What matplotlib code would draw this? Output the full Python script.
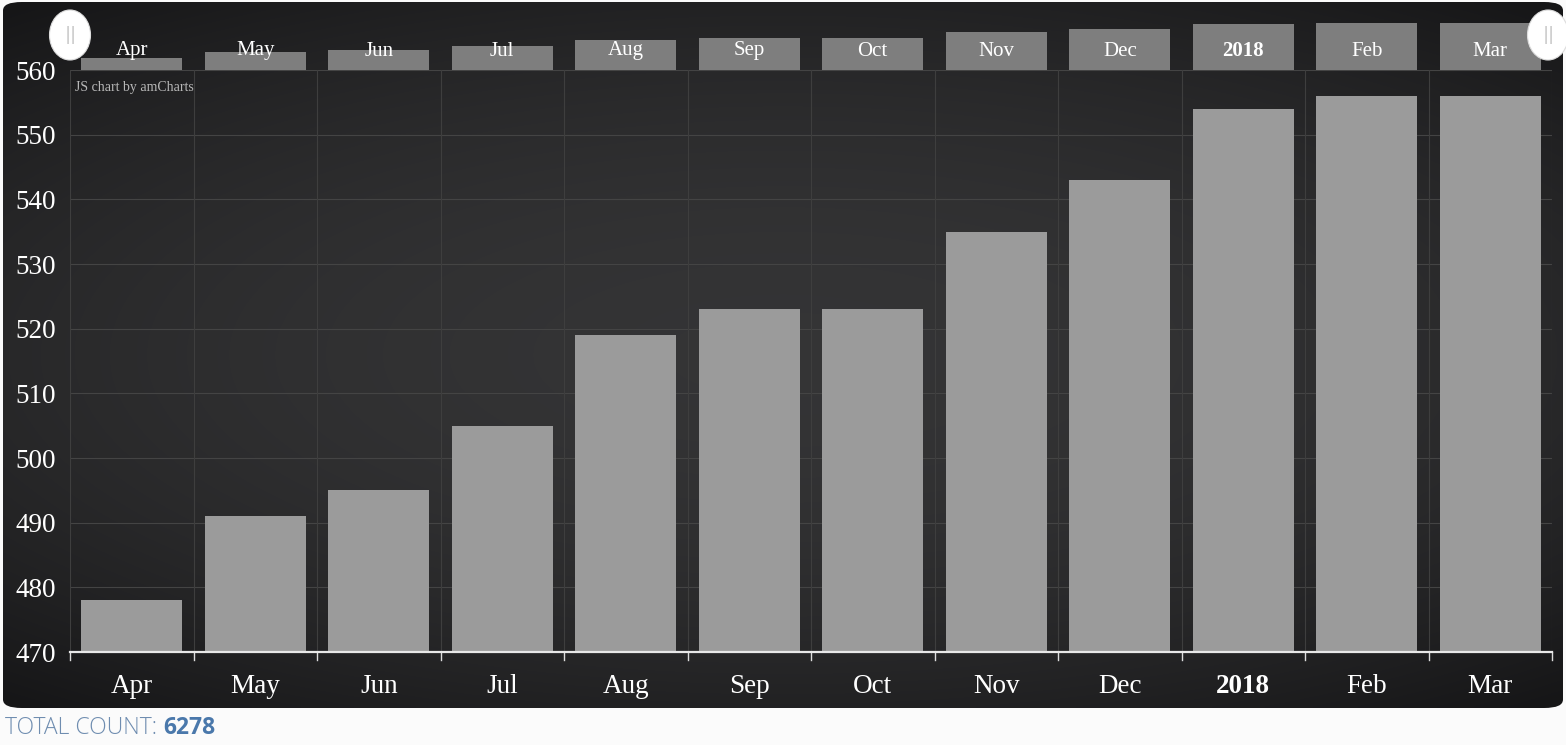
import matplotlib
matplotlib.use("Agg")
import matplotlib.pyplot as plt
import matplotlib.patches as mpatches
import matplotlib.transforms as mtrans
import numpy as np

categories = ["Apr", "May", "Jun", "Jul", "Aug", "Sep", "Oct", "Nov", "Dec", "2018", "Feb", "Mar"]
values = [478, 491, 495, 505, 519, 523, 523, 535, 543, 554, 556, 556]
bold_labels = ["2018"]
y_ticks = [470, 480, 490, 500, 510, 520, 530, 540, 550, 560]
total_label = "TOTAL COUNT: "
total_value = sum(values)

W, H = 1566, 745
fig = plt.figure(figsize=(W / 100, H / 100), dpi=100)
fig.patch.set_facecolor("#fbfbfb")

def fx(px):
    return px / W

def fy(py):
    return 1 - py / H

serif = ["Liberation Serif", "DejaVu Serif"]

# chalkboard panel with soft gradient
panel_ax = fig.add_axes([fx(3), fy(708), fx(1560), (706) / H])
panel_ax.set_axis_off()
gx = np.linspace(-1, 1, 400)
gy = np.linspace(-1, 1, 200)
GX, GY = np.meshgrid(gx, gy)
r = np.sqrt((GX * 0.9) ** 2 + (GY * 1.1) ** 2)
shade = 0.205 - 0.06 * np.clip(r, 0, 1.4) ** 2
img = np.dstack([shade, shade, shade + 0.005])
panel_ax.imshow(np.clip(img, 0, 1), aspect="auto", extent=[0, 1, 0, 1], interpolation="bilinear")
panel_ax.set_xlim(0, 1)
panel_ax.set_ylim(0, 1)
clip = mpatches.FancyBboxPatch((0, 0), 1, 1, boxstyle="round,pad=0,rounding_size=0.012",
                               transform=panel_ax.transAxes, facecolor="none", edgecolor="none")
panel_ax.add_patch(clip)
for im in panel_ax.images:
    im.set_clip_path(clip)

# main axes
ax = fig.add_axes([fx(70), fy(652), fx(1552 - 70), (652 - 70) / H])
ax.set_facecolor("none")
x = np.arange(len(categories))
ax.bar(x, values, width=0.82, color="#9b9b9b", zorder=3)
ax.set_xlim(-0.5, len(categories) - 0.5)
ax.set_ylim(470, 560)
ax.set_yticks(y_ticks)
ax.set_yticklabels([str(t) for t in y_ticks], family=serif, fontsize=19.5, color="white")
ax.set_xticks(x)
ax.set_xticklabels(categories, family=serif, fontsize=19.5, color="white")
for lab in ax.get_xticklabels():
    if lab.get_text() in bold_labels:
        lab.set_fontweight("bold")
ax.tick_params(axis="y", length=0, pad=10)
ax.tick_params(axis="x", length=0, pad=16)
for t in y_ticks:
    ax.axhline(t, color="#444444", lw=0.8, zorder=1)
for b in np.arange(-0.5, len(categories) + 0.5, 1):
    ax.axvline(b, color="#3e3e3e", lw=0.8, zorder=1)
    ax.plot([b, b], [470, 468.8], color="#dddddd", lw=1.0, clip_on=False, zorder=4)
for s in ["top", "right", "left"]:
    ax.spines[s].set_visible(False)
ax.spines["bottom"].set_color("#e8e8e8")
ax.spines["bottom"].set_linewidth(1.6)
ax.spines["bottom"].set_zorder(5)

fig.text(fx(75), fy(88), "JS chart by amCharts", family=serif, fontsize=10,
         color="#b8b8b8", va="center", ha="left")

# scrollbar axes
sax = fig.add_axes([fx(70), fy(70), fx(1552 - 70), (70 - 18) / H])
sax.set_facecolor("#333334")
sax.bar(x, values, width=0.82, color="#7e7e7e", zorder=3)
sax.set_xlim(-0.5, len(categories) - 0.5)
sax.set_ylim(451.3, 567)
sax.set_axis_off()
trans = mtrans.blended_transform_factory(sax.transData, fig.transFigure)
for i, c in enumerate(categories):
    sax.text(i, fy(51), c, transform=trans, ha="center", va="center", family=serif,
             fontsize=15, color="white", fontweight="bold" if c in bold_labels else "normal",
             zorder=5)

# scrollbar handles
for cxp in [70, 1548]:
    e = mpatches.Ellipse((fx(cxp), fy(35)), fx(41), 50 / H, transform=fig.transFigure,
                         facecolor="white", edgecolor="#dddddd", lw=0.8, zorder=10)
    fig.add_artist(e)
    fig.text(fx(cxp), fy(35), "||", ha="center", va="center", fontsize=13,
             color="#999999", family=["DejaVu Sans"], fontweight="light", zorder=11)

# total count
t1 = fig.text(fx(5), fy(728), total_label, ha="left", va="center", fontsize=16.5,
              color="#6f8db0", family=["Open Sans", "DejaVu Sans"], fontweight="light")
fig.canvas.draw()
bb = t1.get_window_extent()
fig.text(bb.x1 / W, fy(728), str(total_value), ha="left", va="center", fontsize=16.5,
         color="#4a78ab", family=["Open Sans", "DejaVu Sans"], fontweight="bold")

fig.savefig("out.png", dpi=100, facecolor=fig.get_facecolor())
